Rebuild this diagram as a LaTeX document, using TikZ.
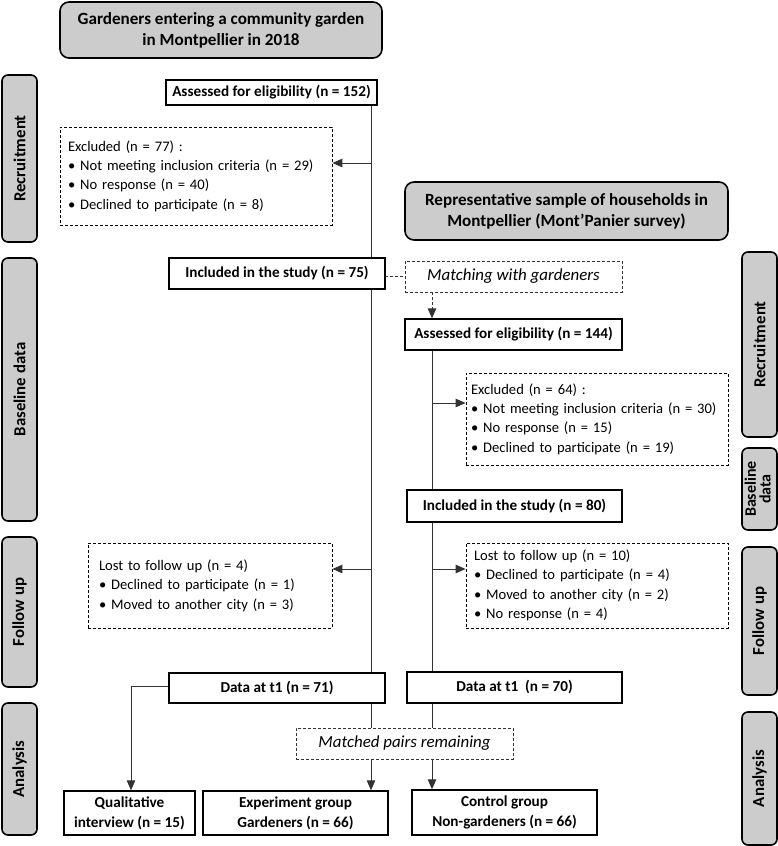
\documentclass[tikz,border=0pt]{standalone}
\usepackage{fontspec}
\setmainfont{Carlito}
\usetikzlibrary{arrows.meta,positioning}
\definecolor{sidegray}{HTML}{CCCCCC}
\definecolor{linegray}{HTML}{333333}
\tikzset{
  solidbox/.style={draw=black,line width=1.4pt,fill=white,inner sep=2pt,align=center,font=\fontsize{15.2}{16}\selectfont\bfseries},
  twoline/.style={font=\fontsize{15.2}{20}\selectfont\bfseries},
  titlebox/.style={draw=black,line width=1.6pt,fill=sidegray,rounded corners=9pt,align=center,font=\fontsize{17.1}{21}\selectfont\bfseries},
  dashbox/.style={draw=black,densely dashed,line width=0.8pt,fill=white,inner sep=0pt,align=left,font=\fontsize{14.6}{19.4}\selectfont},
  matchbox/.style={draw=black!80,densely dashed,line width=0.8pt,fill=white,inner sep=0pt,align=center,font=\fontsize{16.9}{18}\selectfont\itshape},
  sidebar/.style={draw=black,line width=1.6pt,fill=sidegray,rounded corners=6pt,inner sep=0pt,font=\fontsize{16.8}{17}\selectfont\bfseries,align=center},
  conn/.style={draw=linegray,line width=1pt},
  arr/.style={conn,-{Triangle[length=10pt,width=8.5pt]}},
  darr/.style={conn,densely dashed,-{Triangle[length=10pt,width=8.5pt]}},
}
\begin{document}
\begin{tikzpicture}[x=1pt,y=-1pt]
\useasboundingbox (0,0) rectangle (778,846);
% side bars
\node[sidebar,minimum width=35,minimum height=167] (sLrec) at (19.5,158.5) {\rotatebox{90}{Recruitment}};
\node[sidebar,minimum width=35,minimum height=263] (sLbase) at (19.5,389.5) {\rotatebox{90}{Baseline data}};
\node[sidebar,minimum width=35,minimum height=150] (sLfol) at (19.5,612) {\rotatebox{90}{Follow up}};
\node[sidebar,minimum width=35,minimum height=132] (sLana) at (19.5,769) {\rotatebox{90}{Analysis}};
\node[sidebar,minimum width=35,minimum height=185] (sRrec) at (759.5,344.5) {\rotatebox{90}{Recruitment}};
\node[sidebar,minimum width=35,minimum height=82] (sRbase) at (759.5,489) {\rotatebox{90}{\fontsize{16}{12.5}\selectfont\begin{tabular}{@{}c@{}}Baseline\\ data\end{tabular}}};
\node[sidebar,minimum width=35,minimum height=148] (sRfol) at (759.5,621) {\rotatebox{90}{Follow up}};
\node[sidebar,minimum width=35,minimum height=133] (sRana) at (759.5,778.5) {\rotatebox{90}{Analysis}};
% title boxes
\node[titlebox,minimum width=322,minimum height=56] (t1) at (221,30) {Gardeners entering a community garden\\in Montpellier in 2018};
\node[titlebox,minimum width=323,minimum height=58] (t2) at (566.5,211) {Representative sample of households in\\Montpellier (Mont’Panier survey)};
% left column
\node[solidbox,minimum width=211,minimum height=25] (a1) at (271.5,92.5) {Assessed for eligibility (n = 152)};
\node[dashbox,minimum width=272,minimum height=98,text width=256] (e1) at (196,176) {Excluded (n = 77) :\\
• Not meeting inclusion criteria (n = 29)\\
• No response (n = 40)\\
• Declined to participate (n = 8)};
\node[solidbox,minimum width=216,minimum height=31] (i1) at (277,273.5) {Included in the study (n = 75)};
\node[dashbox,minimum width=244,minimum height=85,text width=222] (l1) at (210,585.5) {Lost to follow up (n = 4)\\
• Declined to participate (n = 1)\\
• Moved to another city (n = 3)};
\node[solidbox,minimum width=216,minimum height=30] (d1) at (277,688) {Data at t1 (n = 71)};
% right column
\node[matchbox,minimum width=217,minimum height=31] (m1) at (513.5,276.5) {Matching with gardeners};
\node[solidbox,minimum width=217,minimum height=31] (a2) at (513.5,334.5) {Assessed for eligibility (n = 144)};
\node[dashbox,minimum width=262,minimum height=92,text width=252] (e2) at (597,419) {Excluded (n = 64) :\\
• Not meeting inclusion criteria (n = 30)\\
• No response (n = 15)\\
• Declined to participate (n = 19)};
\node[solidbox,minimum width=215,minimum height=32] (i2) at (514.5,506) {Included in the study (n = 80)};
\node[dashbox,minimum width=262,minimum height=85,text width=246] (l2) at (597,585.5) {Lost to follow up (n = 10)\\
• Declined to participate (n = 4)\\
• Moved to another city (n = 2)\\
• No response (n = 4)};
\node[solidbox,minimum width=215,minimum height=31] (d2) at (514.5,687.5) {Data at t1~ (n = 70)};
% analysis
\node[matchbox,minimum width=217,minimum height=31] (mp) at (404.5,743.5) {Matched pairs remaining};
\node[solidbox,twoline,minimum width=131,minimum height=44] (q) at (129.5,813) {Qualitative\\interview (n = 15)};
\node[solidbox,twoline,minimum width=185,minimum height=44] (ex) at (295.5,813) {Experiment group\\Gardeners (n = 66)};
\node[solidbox,twoline,minimum width=185,minimum height=45] (ct) at (504.5,812.5) {Control group\\Non-gardeners (n = 66)};
% trunk coordinates
\coordinate (tL) at (371,0);
\coordinate (tR) at (432,0);
\coordinate (jE1) at (371,163);
\coordinate (jL1) at (371,569);
\coordinate (jE2) at (432,403);
\coordinate (jL2) at (432,569);
\coordinate (jQ) at (131,686);
\coordinate (jM) at (385,276);
% left connectors
\draw[conn] (tL |- a1.south) -- (tL |- i1.north);
\draw[conn] (tL |- i1.south) -- (tL |- d1.north);
\draw[arr] (jE1) -- (jE1 -| e1.east);
\draw[arr] (jL1) -- (jL1 -| l1.east);
\draw[conn] (tL |- d1.south) -- (tL |- mp.north);
\draw[arr] (tL |- mp.south) -- (tL |- ex.north);
\draw[arr] (jQ -| d1.west) -- (jQ) -- (jQ |- q.north);
% matching
\draw[conn,densely dashed] (jM) -- (jM -| m1.west);
\draw[darr] (tR |- m1.south) -- (tR |- a2.north);
% right connectors
\draw[conn] (tR |- a2.south) -- (tR |- i2.north);
\draw[arr] (jE2) -- (jE2 -| e2.west);
\draw[conn] (tR |- i2.south) -- (tR |- d2.north);
\draw[arr] (jL2) -- (jL2 -| l2.west);
\draw[conn] (tR |- d2.south) -- (tR |- mp.north);
\draw[arr] (tR |- mp.south) -- (tR |- ct.north);
\end{tikzpicture}
\end{document}
